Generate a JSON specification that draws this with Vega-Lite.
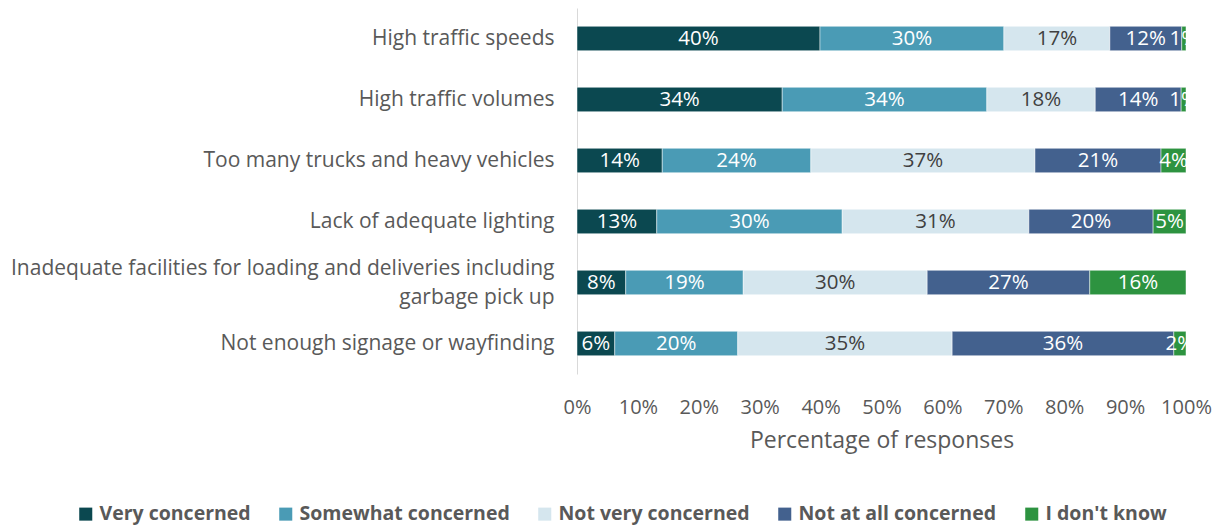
{
  "$schema": "https://vega.github.io/schema/vega-lite/v6.json",
  "width": 609,
  "height": 366,
  "autosize": {"type": "none"},
  "padding": {"left": 577, "top": 8, "right": 34, "bottom": 151},
  "background": "white",
  "config": {"view": {"stroke": null}, "font": "Open Sans"},
  "data": {"values": [
    {"category": "High traffic speeds", "response": "Very concerned", "value": 0.399},
    {"category": "High traffic speeds", "response": "Somewhat concerned", "value": 0.302},
    {"category": "High traffic speeds", "response": "Not very concerned", "value": 0.174},
    {"category": "High traffic speeds", "response": "Not at all concerned", "value": 0.118},
    {"category": "High traffic speeds", "response": "I don't know", "value": 0.007},
    {"category": "High traffic volumes", "response": "Very concerned", "value": 0.337},
    {"category": "High traffic volumes", "response": "Somewhat concerned", "value": 0.336},
    {"category": "High traffic volumes", "response": "Not very concerned", "value": 0.178},
    {"category": "High traffic volumes", "response": "Not at all concerned", "value": 0.141},
    {"category": "High traffic volumes", "response": "I don't know", "value": 0.008},
    {"category": "Too many trucks and heavy vehicles", "response": "Very concerned", "value": 0.14},
    {"category": "Too many trucks and heavy vehicles", "response": "Somewhat concerned", "value": 0.244},
    {"category": "Too many trucks and heavy vehicles", "response": "Not very concerned", "value": 0.368},
    {"category": "Too many trucks and heavy vehicles", "response": "Not at all concerned", "value": 0.207},
    {"category": "Too many trucks and heavy vehicles", "response": "I don't know", "value": 0.041},
    {"category": "Lack of adequate lighting", "response": "Very concerned", "value": 0.131},
    {"category": "Lack of adequate lighting", "response": "Somewhat concerned", "value": 0.3045},
    {"category": "Lack of adequate lighting", "response": "Not very concerned", "value": 0.3065},
    {"category": "Lack of adequate lighting", "response": "Not at all concerned", "value": 0.204},
    {"category": "Lack of adequate lighting", "response": "I don't know", "value": 0.054},
    {"category": "Inadequate facilities for loading and deliveries including garbage pick up", "response": "Very concerned", "value": 0.08},
    {"category": "Inadequate facilities for loading and deliveries including garbage pick up", "response": "Somewhat concerned", "value": 0.193},
    {"category": "Inadequate facilities for loading and deliveries including garbage pick up", "response": "Not very concerned", "value": 0.302},
    {"category": "Inadequate facilities for loading and deliveries including garbage pick up", "response": "Not at all concerned", "value": 0.267},
    {"category": "Inadequate facilities for loading and deliveries including garbage pick up", "response": "I don't know", "value": 0.158},
    {"category": "Not enough signage or wayfinding", "response": "Very concerned", "value": 0.062},
    {"category": "Not enough signage or wayfinding", "response": "Somewhat concerned", "value": 0.202},
    {"category": "Not enough signage or wayfinding", "response": "Not very concerned", "value": 0.352},
    {"category": "Not enough signage or wayfinding", "response": "Not at all concerned", "value": 0.364},
    {"category": "Not enough signage or wayfinding", "response": "I don't know", "value": 0.02}
  ]},
  "transform": [
    {"stack": "value", "groupby": ["category"], "sort": [{"field": "response", "order": "descending"}], "as": ["v0", "v1"]}
  ],
  "encoding": {
    "y": {
      "field": "category", "type": "nominal",
      "sort": ["High traffic speeds", "High traffic volumes", "Too many trucks and heavy vehicles", "Lack of adequate lighting", "Inadequate facilities for loading and deliveries including garbage pick up", "Not enough signage or wayfinding"],
      "scale": {"paddingInner": 0.6, "paddingOuter": 0.3},
      "axis": {
        "title": null, "ticks": false, "domain": true, "domainColor": "#d9d9d9", "domainWidth": 1,
        "labelPadding": 23, "labelFontSize": 21, "labelColor": "#595959", "labelLimit": 0, "labelFont": "Open Sans",
        "labelLineHeight": 29, "labelBaseline": "middle",
        "labelOffset": {"condition": {"test": "datum.value == 'Inadequate facilities for loading and deliveries including garbage pick up'", "value": -14}, "value": 0},
        "labelExpr": "datum.value == 'Inadequate facilities for loading and deliveries including garbage pick up' ? ['Inadequate facilities for loading and deliveries including', 'garbage pick up'] : datum.value"
      }
    }
  },
  "layer": [
    {
      "mark": {"type": "bar", "stroke": "#ffffff", "strokeWidth": 0.8, "strokeOpacity": 0.6},
      "encoding": {
        "x": {
          "field": "v0", "type": "quantitative",
          "scale": {"domain": [0, 1]},
          "axis": {
            "values": [0, 0.1, 0.2, 0.3, 0.4, 0.5, 0.6, 0.7, 0.8, 0.9, 1],
            "format": ".0%", "grid": false, "domain": false, "ticks": false,
            "labelOverlap": false, "labelFlush": false,
            "labelPadding": 23, "labelFontSize": 20, "labelColor": "#595959", "labelFont": "Open Sans",
            "title": "Percentage of responses", "titleFontSize": 23, "titleFontWeight": "normal",
            "titleColor": "#595959", "titlePadding": 12, "titleFont": "Open Sans"
          }
        },
        "x2": {"field": "v1"},
        "color": {
          "field": "response", "type": "nominal",
          "scale": {
            "domain": ["Very concerned", "Somewhat concerned", "Not very concerned", "Not at all concerned", "I don't know"],
            "range": ["#0B4850", "#4A9BB5", "#D5E6EE", "#43618E", "#2D9340"]
          },
          "legend": {
            "title": null, "orient": "none", "direction": "horizontal",
            "legendX": -501, "legendY": 496,
            "symbolType": "square", "symbolSize": 170, "symbolStrokeWidth": 0,
            "labelFontSize": 19.5, "labelFontWeight": "bold", "labelColor": "#595959", "labelFont": "Open Sans",
            "labelOffset": 4, "columnPadding": 25, "labelLimit": 0
          }
        }
      }
    },
    {
      "transform": [
        {"fold": ["v0", "v1"], "as": ["edge_name", "edge"]},
        {"aggregate": [{"op": "mean", "field": "edge", "as": "mid"}], "groupby": ["category", "response", "value"]}
      ],
      "mark": {"type": "text", "fontSize": 20.5, "font": "Open Sans", "clip": true, "baseline": "middle", "align": "center"},
      "encoding": {
        "x": {"field": "mid", "type": "quantitative"},
        "text": {"field": "value", "type": "quantitative", "format": ".0%"},
        "color": {
          "condition": {"test": "datum.response === 'Not very concerned'", "value": "#404040"},
          "value": "#ffffff"
        }
      }
    }
  ]
}
